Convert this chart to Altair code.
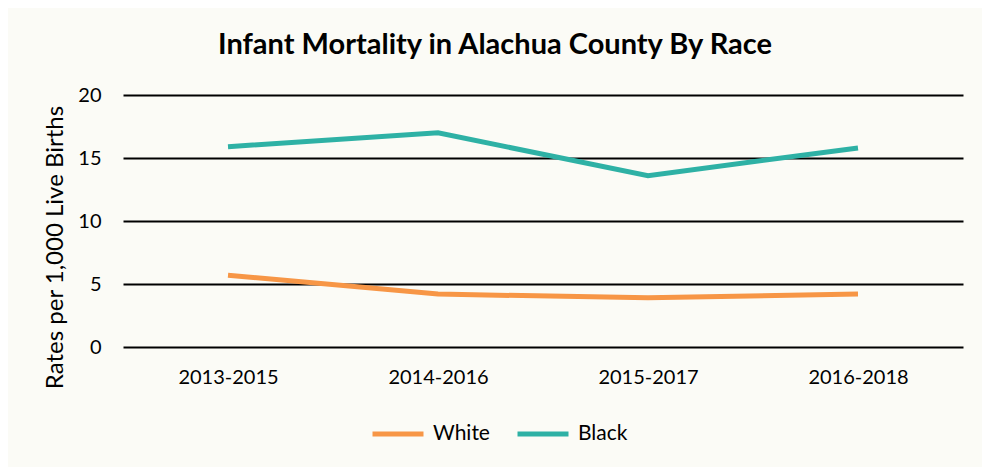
import altair as alt
import pandas as pd

periods = ["2013-2015", "2014-2016", "2015-2017", "2016-2018"]
white = [5.7, 4.2, 3.9, 4.2]
black = [15.9, 17.0, 13.6, 15.8]
series = ["White", "Black"]
colors = ["#F79646", "#2EB1A5"]
y_ticks = [0, 5, 10, 15, 20]

rows = []
for name, vals in zip(series, [white, black]):
    for p, v in zip(periods, vals):
        rows.append({"Period": p, "Race": name, "Rate": v})
df = pd.DataFrame(rows)

FONT = "Lato"

chart = alt.Chart(df).mark_line(strokeWidth=5, strokeJoin="miter").encode(
    x=alt.X("Period:N", sort=periods,
            scale=alt.Scale(type="point", padding=0.5),
            axis=alt.Axis(title=None, labelAngle=0, ticks=False, domain=False,
                          grid=False, labelFontSize=20, labelFont=FONT,
                          labelColor="#000000", labelPadding=20)),
    y=alt.Y("Rate:Q",
            scale=alt.Scale(domain=[0, 20], nice=False),
            axis=alt.Axis(values=y_ticks, title="Rates per 1,000 Live Births",
                          ticks=False, domain=False, grid=True,
                          gridColor="#000000", gridWidth=2,
                          labelFontSize=20, labelFont=FONT, labelColor="#000000",
                          labelPadding=22,
                          titleFont=FONT, titleFontSize=24, titleFontWeight="normal",
                          titleColor="#000000", titleX=-68, titleY=152,
                          titleAngle=270, titleAlign="center",
                          titleBaseline="middle")),
    color=alt.Color("Race:N",
                    scale=alt.Scale(domain=series, range=colors),
                    legend=alt.Legend(title=None, orient="none", direction="horizontal",
                                      legendX=247, legendY=311,
                                      symbolType="stroke", symbolSize=2600,
                                      symbolStrokeWidth=5, labelFontSize=21,
                                      labelFont=FONT, labelColor="#000000",
                                      labelOffset=7, columnPadding=17)),
).properties(
    width=840,
    height=252,
    padding={"left": 115, "top": 87, "right": 19, "bottom": 120},
    autosize=alt.AutoSizeParams(type="none"),
    background="#FBFBF6",
    title=alt.TitleParams("Infant Mortality in Alachua County By Race",
                          font=FONT, fontSize=29, fontWeight="bold",
                          color="#000000", anchor="middle", dx=-48, offset=25),
).configure_view(strokeWidth=0)

chart.save("out.html", embed_options={"renderer": "svg", "actions": False})
